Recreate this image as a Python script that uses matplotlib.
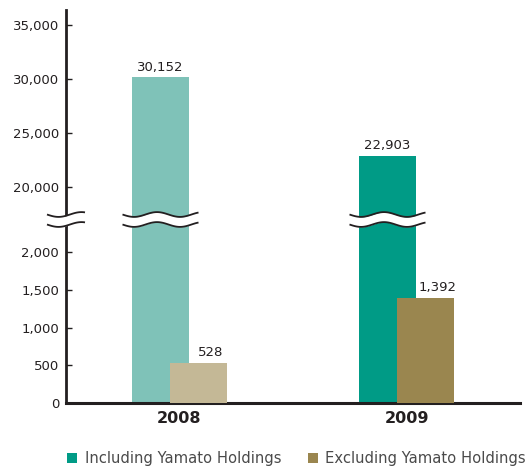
import numpy as np
import matplotlib
matplotlib.use("Agg")
import matplotlib.pyplot as plt
from matplotlib.patches import Rectangle
from matplotlib.ticker import FuncFormatter
from matplotlib.transforms import IdentityTransform

# ---- data ----
years = ["2008", "2009"]
including = [30152, 22903]
excluding = [528, 1392]
series_names = ["Including Yamato Holdings", "Excluding Yamato Holdings"]
ytick_values = [0, 500, 1000, 1500, 2000, 20000, 25000, 30000, 35000]

# ---- style ----
C_INCL = ["#7FC2B8", "#009B86"]
C_EXCL = ["#C4B896", "#9A864F"]
INK = "#231F20"
TEXT = "#231F20"

W, H, DPI = 529, 469, 100
fig = plt.figure(figsize=(W / DPI, H / DPI), dpi=DPI)
ax = fig.add_axes([66 / W, 66 / H, 454 / W, 393 / H])

# broken value axis: a piecewise-linear scale (low range and high range)
BREAK_V = np.array([0.0, 2424.0, 17407.0, 36389.0])
BREAK_U = np.array([0.0, 183.0, 188.0, 393.0])


def _pw(x, xs, ys):
    x = np.asarray(x, dtype=float)
    out = np.interp(x, xs, ys)
    lo = x < xs[0]
    hi = x > xs[-1]
    s0 = (ys[1] - ys[0]) / (xs[1] - xs[0])
    s1 = (ys[-1] - ys[-2]) / (xs[-1] - xs[-2])
    out = np.where(lo, ys[0] + (x - xs[0]) * s0, out)
    out = np.where(hi, ys[-1] + (x - xs[-1]) * s1, out)
    return out


def fwd(v):
    return _pw(v, BREAK_V, BREAK_U)


def inv(u):
    return _pw(u, BREAK_U, BREAK_V)


ax.set_yscale("function", functions=(fwd, inv))

x = np.arange(len(years))
bw = 0.251
off = 0.0837

b1 = ax.bar(x - off, including, bw, color=C_INCL, zorder=2, linewidth=0)
b2 = ax.bar(x + off, excluding, bw, color=C_EXCL, zorder=3, linewidth=0)

ax.set_xlim(-0.5, 1.5)
ax.set_ylim(0, 36389)

ax.set_yticks(ytick_values)
ax.yaxis.set_major_formatter(FuncFormatter(lambda v, p: f"{int(round(v)):,}"))
ax.yaxis.set_minor_locator(matplotlib.ticker.NullLocator())
ax.tick_params(axis="y", direction="in", length=4, width=1, color=INK,
               labelsize=9.5, labelcolor=TEXT, pad=5)
ax.set_xticks(x)
ax.set_xticklabels(years, fontsize=11.5, fontweight="bold", color=TEXT)
ax.tick_params(axis="x", length=0, pad=6)

for s in ["top", "right"]:
    ax.spines[s].set_visible(False)
ax.spines["left"].set_linewidth(2.0)
ax.spines["left"].set_color(INK)
ax.spines["bottom"].set_linewidth(2.2)
ax.spines["bottom"].set_color(INK)

# value labels
for xi, v in zip(x, including):
    ax.annotate(f"{v:,}", (xi - off, v), xytext=(0, 4.6), textcoords="offset points",
                ha="center", va="baseline", fontsize=9.5, color=TEXT)
for xi, v in zip(x, excluding):
    ax.annotate(f"{v:,}", (xi + off, v), xytext=(8.5, 5), textcoords="offset points",
                ha="center", va="baseline", fontsize=9.5, color=TEXT)

# wavy break marks across the axis and the tall bars
fig.canvas.draw()
y_mid = ax.transData.transform((0, 0))[1] + 183.5


def wave_break(cx, half, period=46.0, amp=2.4, gap=5.0):
    xs = np.linspace(cx - half, cx + half, 120)
    ph = np.sin(2 * np.pi * (xs - (cx - half)) / period + np.pi)
    ytop = y_mid + gap + amp * ph
    ybot = y_mid - gap + amp * ph
    ax.fill_between(xs, ybot, ytop, color="white", transform=IdentityTransform(),
                    zorder=6, clip_on=False, linewidth=0)
    for yy in (ytop, ybot):
        ax.plot(xs, yy, color=INK, lw=1.3, transform=IdentityTransform(),
                zorder=7, clip_on=False, solid_capstyle="butt")


axis_px = ax.transAxes.transform((0, 0))[0]
wave_break(axis_px, 19)
for xi in x:
    cx = ax.transData.transform((xi - off, 0))[0]
    wave_break(cx, 38)

# legend
fig.patches.append(Rectangle((67 / W, 6 / H), 10 / W, 10 / H, transform=fig.transFigure,
                             facecolor=C_INCL[1], edgecolor="none", figure=fig))
fig.text(85 / W, 6 / H, series_names[0], fontsize=10.6, color="#4a4a4a", va="baseline", ha="left")
fig.patches.append(Rectangle((308 / W, 6 / H), 10 / W, 10 / H, transform=fig.transFigure,
                             facecolor=C_EXCL[1], edgecolor="none", figure=fig))
fig.text(325 / W, 6 / H, series_names[1], fontsize=10.6, color="#4a4a4a", va="baseline", ha="left")

fig.savefig("out.png", dpi=DPI)
